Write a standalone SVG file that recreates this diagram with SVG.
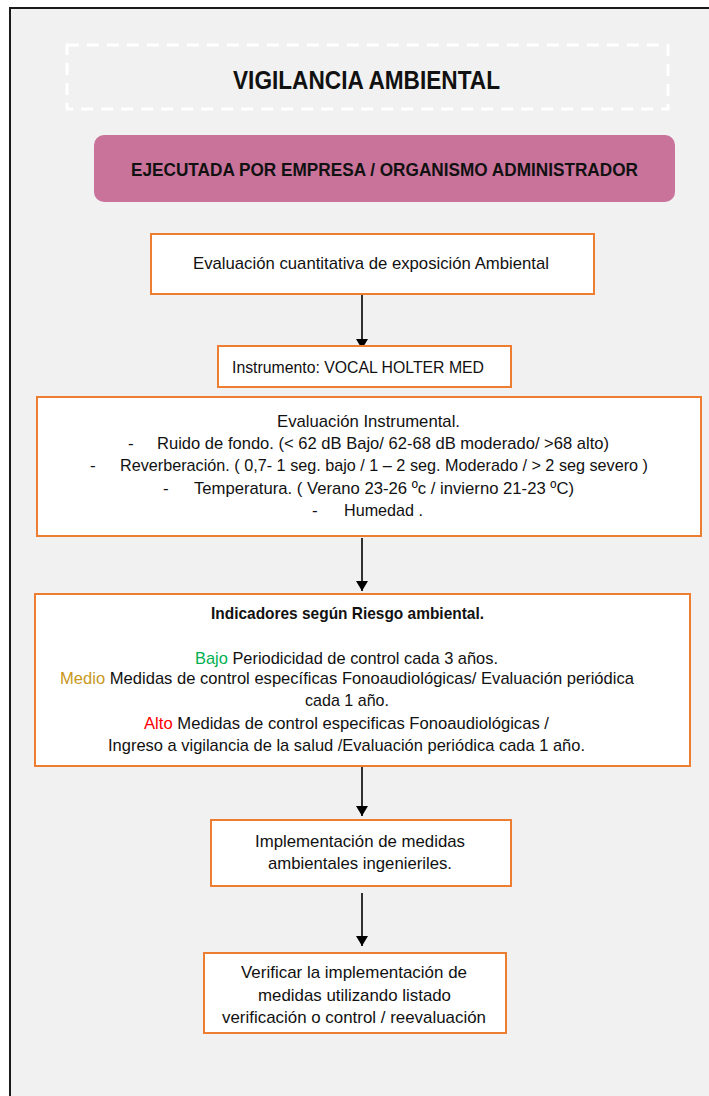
<svg xmlns="http://www.w3.org/2000/svg" width="709" height="1096" viewBox="0 0 709 1096">
  <style>
    .box { fill: #ffffff; stroke: #ed7d31; stroke-width: 2; }
    .t { font-family: "Liberation Sans", Arial, sans-serif; font-size: 17px; fill: #111111; }
    .b { font-weight: bold; }
    .title { font-size: 25px; }
    .banner { font-size: 18px; }
    .conn { stroke: #000000; stroke-width: 1.6; fill: none; marker-end: url(#arrow); }
  </style>
  <defs>
    <marker id="arrow" viewBox="0 0 10 12" refX="10" refY="6" markerWidth="14" markerHeight="12" markerUnits="userSpaceOnUse" orient="auto">
      <path d="M0,0 L10,6 L0,12 z" fill="#000000"/>
    </marker>
  </defs>

  <!-- page background and frame -->
  <rect x="0" y="0" width="709" height="1096" fill="#ffffff"/>
  <rect x="10" y="8" width="710" height="1100" fill="#f1f1f1" stroke="#1a1a1a" stroke-width="2"/>

  <!-- title -->
  <g id="title">
    <rect x="67" y="45" width="601" height="64" fill="none" stroke="#ffffff" stroke-width="3" stroke-dasharray="12 8"/>
    <text class="t b title" x="233" y="89" textLength="267" lengthAdjust="spacingAndGlyphs">VIGILANCIA AMBIENTAL</text>
  </g>

  <!-- executor banner -->
  <g id="banner">
    <rect x="94" y="135" width="581" height="67" rx="10" ry="10" fill="#c9739b"/>
    <text class="t b banner" x="131" y="176" textLength="507" lengthAdjust="spacingAndGlyphs">EJECUTADA POR EMPRESA / ORGANISMO ADMINISTRADOR</text>
  </g>

  <!-- connectors -->
  <g id="connectors">
    <line class="conn" x1="362" y1="295" x2="362" y2="349"/>
    <line class="conn" x1="362" y1="538" x2="362" y2="591"/>
    <line class="conn" x1="362" y1="767" x2="362" y2="816"/>
    <line class="conn" x1="362" y1="893" x2="362" y2="946"/>
  </g>

  <g id="n-evaluacion">
    <rect class="box" x="151" y="234" width="443" height="60"/>
    <text class="t" x="193" y="269" textLength="356" lengthAdjust="spacingAndGlyphs">Evaluación cuantitativa de exposición Ambiental</text>
  </g>

  <g id="n-instrumento">
    <rect class="box" x="218" y="346" width="293" height="41"/>
    <text class="t" x="232" y="373" textLength="252" lengthAdjust="spacingAndGlyphs">Instrumento: VOCAL HOLTER MED</text>
  </g>

  <g id="n-instrumental">
    <rect class="box" x="37" y="397" width="664" height="139"/>
    <text class="t" x="277" y="427" textLength="183" lengthAdjust="spacingAndGlyphs">Evaluación Instrumental.</text>
    <text class="t" x="128" y="449">-</text>
    <text class="t" x="157" y="449" textLength="452" lengthAdjust="spacingAndGlyphs">Ruido de fondo. (&lt; 62 dB Bajo/ 62-68 dB moderado/ &gt;68 alto)</text>
    <text class="t" x="90" y="471">-</text>
    <text class="t" x="120" y="471" textLength="528" lengthAdjust="spacingAndGlyphs">Reverberación. ( 0,7- 1 seg. bajo / 1 – 2 seg. Moderado / &gt; 2 seg severo )</text>
    <text class="t" x="163" y="494">-</text>
    <text class="t" x="194" y="494" textLength="380" lengthAdjust="spacingAndGlyphs">Temperatura. ( Verano 23-26 ºc / invierno 21-23 ºC)</text>
    <text class="t" x="312" y="516">-</text>
    <text class="t" x="344" y="516" textLength="79" lengthAdjust="spacingAndGlyphs">Humedad .</text>
  </g>

  <g id="n-indicadores">
    <rect class="box" x="35" y="594" width="655" height="172"/>
    <text class="t b" x="211" y="619" textLength="273" lengthAdjust="spacingAndGlyphs">Indicadores según Riesgo ambiental.</text>
    <text class="t" x="195" y="664" textLength="303" lengthAdjust="spacingAndGlyphs"><tspan fill="#00b050">Bajo</tspan> Periodicidad de control cada 3 años.</text>
    <text class="t" x="60" y="684" textLength="574" lengthAdjust="spacingAndGlyphs"><tspan fill="#c9971c">Medio</tspan> Medidas de control específicas Fonoaudiológicas/ Evaluación periódica</text>
    <text class="t" x="305" y="706" textLength="84" lengthAdjust="spacingAndGlyphs">cada 1 año.</text>
    <text class="t" x="144" y="729" textLength="405" lengthAdjust="spacingAndGlyphs"><tspan fill="#ff0000">Alto</tspan> Medidas de control especificas Fonoaudiológicas /</text>
    <text class="t" x="108" y="751" textLength="477" lengthAdjust="spacingAndGlyphs">Ingreso a  vigilancia de la salud /Evaluación periódica cada 1 año.</text>
  </g>

  <g id="n-implementacion">
    <rect class="box" x="211" y="820" width="300" height="66"/>
    <text class="t" x="255" y="847" textLength="210" lengthAdjust="spacingAndGlyphs">Implementación de medidas</text>
    <text class="t" x="268" y="869" textLength="184" lengthAdjust="spacingAndGlyphs">ambientales ingenieriles.</text>
  </g>

  <g id="n-verificar">
    <rect class="box" x="204" y="953" width="302" height="80"/>
    <text class="t" x="241" y="978" textLength="226" lengthAdjust="spacingAndGlyphs">Verificar la implementación de</text>
    <text class="t" x="258" y="1001" textLength="193" lengthAdjust="spacingAndGlyphs">medidas utilizando listado</text>
    <text class="t" x="222" y="1023" textLength="264" lengthAdjust="spacingAndGlyphs">verificación o control / reevaluación</text>
  </g>
</svg>
